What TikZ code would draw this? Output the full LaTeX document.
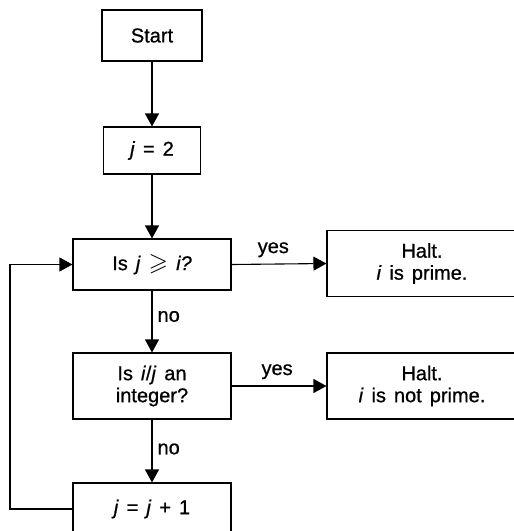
\documentclass[tikz,border=0pt]{standalone}
\usepackage{amssymb}
\usepackage{fontspec}
\setmainfont{Liberation Sans}[FakeBold=0.8]
\usetikzlibrary{arrows.meta}
\newcommand\chartfont{\fontsize{20}{22}\selectfont\spaceskip=8pt plus 1pt\relax}
\newcommand\geqsl{\raisebox{-0.5pt}{\scalebox{1.25}{\boldmath$\geqslant$}}}

\begin{document}
\begin{tikzpicture}[
  x=1pt, y=-1pt,
  every node/.style={font=\chartfont},
  box/.style={draw, line width=1.1pt, inner sep=0pt, align=center},
  flow/.style={line width=1.1pt, -{Triangle[width=14pt,length=13pt]}},
  lbl/.style={inner sep=0pt, anchor=base}
]
\useasboundingbox (0,0) rectangle (514,531);
\clip (0,0) rectangle (514,531);

% process and decision boxes
\node[box, minimum width=100pt, minimum height=51pt] (start) at (152,35.5) {Start};
\node[box, minimum width=97pt,  minimum height=47pt] (init)  at (152,150.5) {\textit{j} = 2};
\node[box, minimum width=158pt, minimum height=51pt] (q1)    at (152,264.5) {Is \textit{j} \geqsl{} \textit{i?}};
\node[box, minimum width=158pt, minimum height=66pt] (q2)    at (152,386) {Is \textit{i}/\textit{j} an\\integer?};
\node[box, minimum width=158pt, minimum height=52pt] (inc)   at (152,509) {\textit{j} = \textit{j} + 1};
\node[box, minimum width=190pt, minimum height=66pt] (prime) at (422,263.5) {Halt.\\\textit{i} is prime.};
\node[box, minimum width=190pt, minimum height=66pt] (comp)  at (422,386) {Halt.\\\textit{i} is not prime.};

% connectors
\draw[flow] (start) -- (init);
\draw[flow] (init) -- (q1);
\draw[flow] (q1) -- node[lbl, anchor=west, xshift=5pt, yshift=5pt] {no} (q2);
\draw[flow] (q2) -- node[lbl, anchor=west, xshift=5pt, yshift=2pt] {no} (inc);
\draw[flow] (q1.east) -- node[lbl, pos=0.44, yshift=11pt] {yes} (prime.west);
\draw[flow] (q2.east) -- node[lbl, pos=0.48, yshift=11pt] {yes} (comp.west);
\coordinate (back) at (10,509);
\draw[flow] (inc.west) -- (back) |- (q1.west);
\end{tikzpicture}
\end{document}
